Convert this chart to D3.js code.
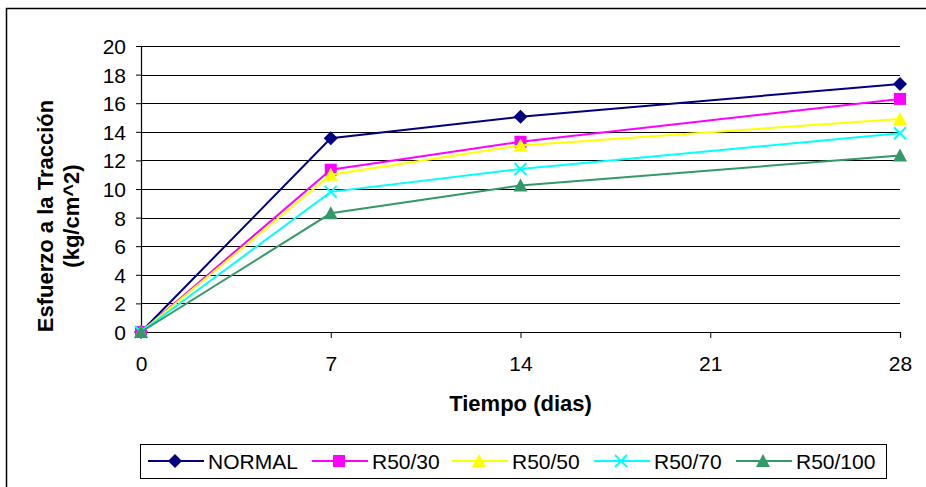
<!DOCTYPE html>
<html>
<head>
<meta charset="utf-8">
<script src="https://cdn.jsdelivr.net/npm/d3@7"></script>
<style>
  body { margin: 0; background: #fff; }
  text { font-family: "Liberation Sans", Arial, sans-serif; }
</style>
</head>
<body>
<svg id="chart"></svg>
<script>
// data
const days = [0, 7, 14, 28];
const xTicks = [0, 7, 14, 21, 28];
const yTicks = [0, 2, 4, 6, 8, 10, 12, 14, 16, 18, 20];
const seriesNames = ["NORMAL", "R50/30", "R50/50", "R50/70", "R50/100"];
const normal = [0, 13.55, 15.05, 17.35];
const r5030 = [0, 11.35, 13.3, 16.3];
const r5050 = [0, 11.0, 13.05, 14.9];
const r5070 = [0, 9.8, 11.4, 13.9];
const r50100 = [0, 8.3, 10.25, 12.35];
const seriesValues = [normal, r5030, r5050, r5070, r50100];
const colors = ["#000080", "#ff00ff", "#ffff00", "#00ffff", "#339966"];
const shapes = ["diamond", "square", "triangle", "cross", "triangle"];

const width = 926, height = 487;
const margin = { top: 46, left: 141, right: 26, bottom: 155 };
const innerW = width - margin.left - margin.right;
const innerH = height - margin.top - margin.bottom;

const svg = d3.select("#chart")
    .attr("width", width)
    .attr("height", height);

// outer frame
svg.append("rect")
    .attr("x", 6.5).attr("y", 8.5)
    .attr("width", 960).attr("height", 520)
    .attr("fill", "none")
    .attr("stroke", "#000")
    .attr("stroke-width", 1.5);

const chart = svg.append("g")
    .attr("transform", `translate(${margin.left},${margin.top})`);

const xScale = d3.scaleLinear().domain([0, 28]).range([0, innerW]);
const yScale = d3.scaleLinear().domain([0, 20]).range([innerH, 0]);

// gridlines
chart.selectAll(".grid")
    .data(yTicks.filter(d => d > 0))
    .join("line")
    .attr("class", "grid")
    .attr("x1", 0).attr("x2", innerW)
    .attr("y1", d => Math.round(yScale(d)) + 0.5)
    .attr("y2", d => Math.round(yScale(d)) + 0.5)
    .attr("stroke", "#000")
    .attr("stroke-width", 1);

// axes
const yAxis = d3.axisLeft(yScale).tickValues(yTicks).tickSize(5).tickPadding(10);
const yG = chart.append("g").call(yAxis);
const xAxis = d3.axisBottom(xScale).tickValues(xTicks).tickSize(6).tickPadding(18);
const xG = chart.append("g").attr("transform", `translate(0,${innerH})`).call(xAxis);

[xG, yG].forEach(g => {
  g.select(".domain").attr("stroke", "#000").attr("stroke-width", 1.2);
  g.selectAll(".tick line").attr("stroke", "#000");
  g.selectAll(".tick text")
      .attr("fill", "#000")
      .style("font-size", "21px")
      .style("font-family", "'Liberation Sans', Arial, sans-serif");
});
yG.selectAll(".tick text").attr("dy", "0.36em");

// axis titles
svg.append("text")
    .attr("x", margin.left + innerW / 2)
    .attr("y", 411)
    .attr("text-anchor", "middle")
    .attr("font-weight", "bold")
    .style("font-size", "22px")
    .text("Tiempo (dias)");

const yTitle = svg.append("text")
    .attr("transform", "translate(53,216) rotate(-90)")
    .attr("text-anchor", "middle")
    .attr("font-weight", "bold")
    .style("font-size", "22px");
yTitle.append("tspan").attr("x", 0).attr("dy", 0).text("Esfuerzo a la Tracción");
yTitle.append("tspan").attr("x", 0).attr("dy", 26).text("(kg/cm^2)");

// marker helper
function drawMarker(g, shape, color, x, y) {
  if (shape === "diamond") {
    g.append("path")
        .attr("d", `M${x},${y - 7}L${x + 7},${y}L${x},${y + 7}L${x - 7},${y}Z`)
        .attr("fill", color);
  } else if (shape === "square") {
    g.append("rect")
        .attr("x", x - 6).attr("y", y - 6)
        .attr("width", 12).attr("height", 12)
        .attr("fill", color);
  } else if (shape === "triangle") {
    g.append("path")
        .attr("d", `M${x},${y - 7}L${x + 7},${y + 6}L${x - 7},${y + 6}Z`)
        .attr("fill", color);
  } else if (shape === "cross") {
    g.append("path")
        .attr("d", `M${x - 6},${y - 6}L${x + 6},${y + 6}M${x - 6},${y + 6}L${x + 6},${y - 6}`)
        .attr("stroke", color)
        .attr("stroke-width", 2)
        .attr("fill", "none");
  }
}

const line = d3.line()
    .x((d, i) => xScale(days[i]))
    .y(d => yScale(d));

seriesValues.forEach((vals, s) => {
  const g = chart.append("g");
  g.append("path")
      .attr("d", line(vals))
      .attr("fill", "none")
      .attr("stroke", colors[s])
      .attr("stroke-width", 2);
  vals.forEach((v, i) => drawMarker(g, shapes[s], colors[s], xScale(days[i]), yScale(v)));
});

// legend
const legend = svg.append("g");
legend.append("rect")
    .attr("x", 140.5).attr("y", 444.5)
    .attr("width", 746).attr("height", 34)
    .attr("fill", "#fff")
    .attr("stroke", "#000")
    .attr("stroke-width", 1);

const legendX = [148, 312, 452, 594, 736];
seriesNames.forEach((name, s) => {
  const x0 = legendX[s], yc = 461;
  legend.append("line")
      .attr("x1", x0).attr("x2", x0 + 56)
      .attr("y1", yc).attr("y2", yc)
      .attr("stroke", colors[s])
      .attr("stroke-width", 2);
  drawMarker(legend, shapes[s], colors[s], x0 + 27, yc);
  legend.append("text")
      .attr("x", x0 + 60)
      .attr("y", yc)
      .attr("dy", "0.36em")
      .style("font-size", "21px")
      .text(name);
});
</script>
</body>
</html>
